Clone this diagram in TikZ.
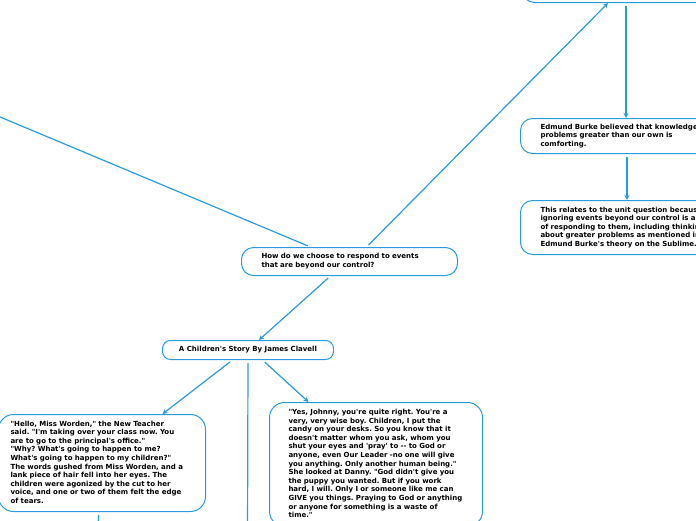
\documentclass[tikz,border=0pt]{standalone}
\usepackage{fontspec}
\newfontfamily\mmfont{DejaVu Sans}
\usetikzlibrary{arrows.meta}
\definecolor{mmblue}{RGB}{41,155,222}
\newcommand{\lns}[1]{\begin{tabular}{@{}l@{}}#1\end{tabular}}
\frenchspacing

\begin{document}
\begin{tikzpicture}[x=1pt, y=-1pt,
    box/.style={draw=mmblue, line width=1pt, rounded corners=12pt, fill=white,
        anchor=north west, align=left, inner ysep=0pt,
        font=\mmfont\bfseries\fontsize{7}{8.6}\selectfont, text=black},
    link/.style={draw=mmblue, line width=1.2pt, shorten <=3pt},
    arr/.style={link, -{Stealth[length=5pt, width=5pt]}}]
    % Frame
    \useasboundingbox (0,0) rectangle (696,520);
    \clip (0,0) rectangle (696,520);
    % Nodes
    \node[box, minimum width=200, minimum height=40, anchor=south west] (topic) at (522,3) {};
    \node[box, text width=200, inner xsep=20, minimum height=35] (burke) at (520,118)
        {\lns{Edmund Burke believed that knowledge\\ problems greater than our own is\\ comforting.}};
    \node[box, text width=200, inner xsep=20, minimum height=54] (unit) at (520,200)
        {\lns{This relates to the unit question because\\ ignoring events beyond our control is a\\
        of responding to them, including thinking\\ about greater problems as mentioned in\\
        Edmund Burke's theory on the Sublime.}};
    \node[box, text width=176, inner xsep=20, minimum height=28] (q) at (241,247)
        {\lns{How do we choose to respond to events\\ that are beyond our control?}};
    \node[box, rounded corners=8pt, align=center, inner sep=0, minimum width=171, minimum height=19] (story) at (162,340)
        {A Children's Story By James Clavell};
    \node[box, rounded corners=15pt, text width=183, inner xsep=12, minimum height=97] (hello) at (-2,414)
        {\lns{"Hello, Miss Worden," the New Teacher\\ said. "I'm taking over your class now. You\\
        are to go to the principal's office."\\ "Why? What's going to happen to me?\\
        What's going to happen to my children?"\\ The words gushed from Miss Worden, and a\\
        lank piece of hair fell into her eyes. The\\ children were agonized by the cut to her\\
        voice, and one or two of them felt the edge\\ of tears.}};
    \node[box, rounded corners=15pt, text width=175, inner xsep=19, inner ysep=6] (johnny) at (269,402)
        {\lns{"Yes, Johnny, you're quite right. You're a\\ very, very wise boy. Children, I put the\\
        candy on your desks. So you know that it\\ doesn't matter whom you ask, whom you\\
        shut your eyes and 'pray' to -- to God or\\ anyone, even Our Leader -no one will give\\
        you anything. Only another human being."\\ She looked at Danny. "God didn't give you\\
        the puppy you wanted. But if you work\\ hard, I will. Only I or someone like me can\\
        GIVE you things. Praying to God or anything\\ or anyone for something is a waste of\\
        time."}};
    % Free ends
    \coordinate (root) at (-40,100.2);
    \coordinate (down) at (247.5,540);
    \coordinate (hdown) at (98,540);
    % Connectors
    \draw[link] ([xshift=-39]q.north) -- (root);
    \draw[arr] ([xshift=17]q.north) -- ([xshift=86]topic.south west);
    \draw[arr] ([xshift=104]topic.south west) -- ([xshift=106]burke.north west);
    \draw[arr] ([xshift=107]burke.south west) -- ([xshift=107]unit.north west);
    \draw[arr] ([xshift=-19]q.south) -- ([xshift=11]story.north);
    \draw[arr] ([xshift=-15.5]story.south) -- ([xshift=60.5]hello.north);
    \draw[arr] ([xshift=14.5]story.south) -- ([xshift=-67.5]johnny.north);
    \draw[link] (story.south) -- (down);
    \draw[link] ([xshift=-3.5]hello.south) -- (hdown);
\end{tikzpicture}
\end{document}
